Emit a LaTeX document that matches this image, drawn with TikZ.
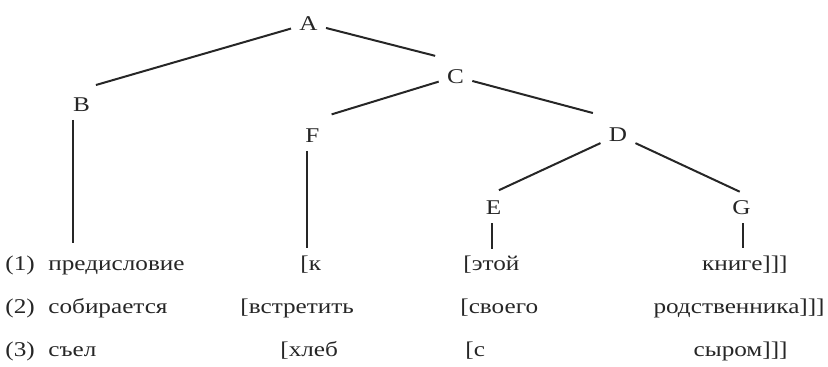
\documentclass[tikz,border=0pt]{standalone}
\usepackage{fontspec}
\setmainfont{Liberation Serif}[FakeStretch=1.2]

\begin{document}
\begin{tikzpicture}[x=0.5pt,y=-0.5pt,font=\fontsize{10.5}{12}\selectfont,
  lbl/.style={inner sep=4pt,text=black!85},
  wd/.style={inner sep=0pt,anchor=base west,text=black!85},
  wde/.style={inner sep=0pt,anchor=base east,text=black!85},
  branch/.style={draw=black!85,line width=1pt,shorten >=#1},
  branch/.default=0pt]
  \useasboundingbox (0,0) rectangle (828,367);
  \node[lbl] (A) at (308.5,23.5) {A};
  \node[lbl] (B) at (81.5,104.5) {B};
  \node[lbl] (C) at (455.5,76.5) {C};
  \node[lbl] (F) at (312.5,135.5) {F};
  \node[lbl] (D) at (618,135) {D};
  \node[lbl] (E) at (493.5,208) {E};
  \node[lbl] (G) at (741.5,208) {G};
  \draw[branch=7.5pt] (A) -- (B.north);
  \draw[branch=10.5pt] (A) -- (C.north);
  \draw[branch=10pt] (C) -- (F.north);
  \draw[branch=13pt] (C) -- (D.north);
  \draw[branch=3pt] (D) -- (E.north);
  \draw[branch=1pt] (D) -- (G.north);
  \coordinate (bB) at (73,243);
  \coordinate (bF) at (307,248);
  \coordinate (bE) at (492,249);
  \coordinate (bG) at (743,248);
  \draw[branch] (B.south -| bB) -- (bB);
  \draw[branch] (F.south -| bF) -- (bF);
  \draw[branch] (E.south -| bE) -- (bE);
  \draw[branch] (G.south -| bG) -- (bG);
  \node[wd] (n1) at (5,271) {(1)};
  \node[wd] (w1a) at (48,271) {предисловие};
  \node[wd] (w1b) at (300,271) {[к};
  \node[wd] (w1c) at (463,271) {[этой};
  \node[wde] (w1d) at (788,271) {книге]]]};
  \node[wd] (n2) at (5,314) {(2)};
  \node[wd] (w2a) at (48,314) {собирается};
  \node[wd] (w2b) at (240,314) {[встретить};
  \node[wd] (w2c) at (460,314) {[своего};
  \node[wde] (w2d) at (825,314) {родственника]]]};
  \node[wd] (n3) at (5,357) {(3)};
  \node[wd] (w3a) at (48,357) {съел};
  \node[wd] (w3b) at (280,357) {[хлеб};
  \node[wd] (w3c) at (465,357) {[с};
  \node[wde] (w3d) at (788,357) {сыром]]]};
\end{tikzpicture}
\end{document}
